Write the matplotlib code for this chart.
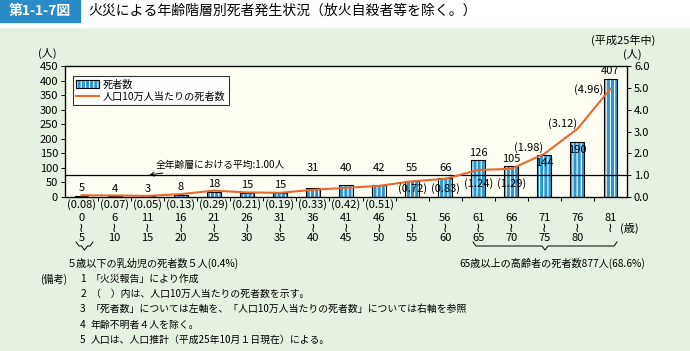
import matplotlib.pyplot as plt
import matplotlib.transforms as mtransforms
from matplotlib.patches import Patch, Rectangle
from matplotlib.lines import Line2D
from matplotlib.legend_handler import HandlerTuple

plt.rcParams['font.family'] = ['Noto Sans CJK JP', 'DejaVu Sans']
plt.rcParams['hatch.color'] = 'white'
plt.rcParams['hatch.linewidth'] = 0.8

# data
age_from = ['0', '6', '11', '16', '21', '26', '31', '36', '41', '46', '51', '56', '61', '66', '71', '76', '81']
age_to = ['5', '10', '15', '20', '25', '30', '35', '40', '45', '50', '55', '60', '65', '70', '75', '80', '']
deaths = [5, 4, 3, 8, 18, 15, 15, 31, 40, 42, 55, 66, 126, 105, 144, 190, 407]
rates = [0.08, 0.07, 0.05, 0.13, 0.29, 0.21, 0.19, 0.33, 0.42, 0.51, 0.72, 0.83, 1.24, 1.29, 1.98, 3.12, 4.96]
avg_rate = 1.00

notes = [
    ('1', '「火災報告」により作成'),
    ('2', '（　）内は、人口10万人当たりの死者数を示す。'),
    ('3', '「死者数」については左軸を、「人口10万人当たりの死者数」については右軸を参照'),
    ('4', '年齢不明者４人を除く。'),
    ('5', '人口は、人口推計（平成25年10月１日現在）による。'),
]

W, H = 690, 351
BLUE = '#2A98CE'
ORANGE = '#E8692E'

fig = plt.figure(figsize=(W / 100, H / 100), dpi=100)
fig.patch.set_facecolor('#E6F2E1')


def px(x, y):
    return x / W, 1 - y / H


# white title strip + blue label box
fig.add_artist(Rectangle(px(0, 27), 1, 27 / H, transform=fig.transFigure, color='white', zorder=0))
fig.add_artist(Rectangle(px(0, 22), 80 / W, 22 / H, transform=fig.transFigure, color='#2A8BC7', zorder=1))
fig.text(*px(40, 11), '第1-1-7図', color='white', fontsize=10, fontweight='bold', ha='center', va='center')
fig.text(*px(88, 11), '火災による年齢階層別死者発生状況（放火自殺者等を除く。）', fontsize=10,
         ha='left', va='center')

ax = fig.add_axes([65 / W, 1 - 197 / H, 562 / W, 131 / H])
ax.set_facecolor('#FEFEF3')
x = list(range(len(deaths)))

ax.bar(x, deaths, width=0.42, color=BLUE, hatch='||||', zorder=2)
ax.bar(x, deaths, width=0.42, fill=False, edgecolor='black', linewidth=0.8, zorder=3)
ax.axhline(avg_rate * 75, color='black', linewidth=0.9, zorder=4)

ax.set_xlim(-0.5, len(deaths) - 0.5)
ax.set_ylim(0, 450)
ax.set_yticks(range(0, 451, 50))
ax.set_xticks([i + 0.5 for i in x[:-1]])
ax.set_xticklabels([])
ax.tick_params(axis='x', length=3, width=0.7, direction='out')
ax.tick_params(axis='y', length=3, width=0.7, labelsize=8, pad=2)
for s in ax.spines.values():
    s.set_linewidth(0.9)

ax2 = ax.twinx()
ax2.set_ylim(0, 6)
ax2.set_yticks([0, 1, 2, 3, 4, 5, 6])
ax2.set_yticklabels([f'{v:.1f}' for v in range(7)])
ax2.tick_params(axis='y', length=3, width=0.7, labelsize=8, pad=2)
ax2.plot(x, rates, color=ORANGE, linewidth=1.5, zorder=5)

# counts above bars
for i, v in enumerate(deaths):
    if 25 < v < 75:
        y = 100
    elif v in (144, 190):
        y = v - 28
    else:
        y = v + 25
    ax.text(i, y, str(v), ha='center', va='center', fontsize=8, zorder=6)

# rate labels
bx = mtransforms.blended_transform_factory(ax.transData, fig.transFigure)
for i, r in enumerate(rates):
    lab = f'({r:.2f})'
    if i < 10:
        ax.text(i, 1 - 205 / H, lab, transform=bx, ha='center', va='center', fontsize=8)
    elif i < 12:
        ax2.text(i, 0.37, lab, ha='center', va='center', fontsize=8, zorder=6)
    elif i < 14:
        ax2.text(i, 0.6, lab, ha='center', va='center', fontsize=8, zorder=6)
    elif i == 14:
        ax2.text(i - 0.48, r + 0.27, lab, ha='center', va='center', fontsize=8)
    elif i == 15:
        ax2.text(i - 0.45, r + 0.23, lab, ha='center', va='center', fontsize=8)
    else:
        ax2.text(i - 0.22, r - 0.06, lab, ha='right', va='center', fontsize=8)

# age ranges under axis
for i in x:
    ax.text(i, 1 - 218 / H, age_from[i], transform=bx, ha='center', va='center', fontsize=8)
    ax.text(i, 1 - 228 / H, '≀', transform=bx, ha='center', va='center', fontsize=9,
            family='DejaVu Sans')
    if age_to[i]:
        ax.text(i, 1 - 238 / H, age_to[i], transform=bx, ha='center', va='center', fontsize=8)
ax.text(len(x) - 1 + 0.3, 1 - 228 / H, '(歳)', transform=bx, ha='left', va='center', fontsize=8)

# average annotation
ax.annotate('全年齢層における平均:1.00人', xy=(2.05, 76), xytext=(2.25, 109),
            fontsize=7, ha='left', va='center',
            arrowprops=dict(arrowstyle='->', color='black', lw=0.7, shrinkA=0, shrinkB=0))

# legend
h_bar = (Patch(facecolor=BLUE, hatch='||||'), Patch(fill=False, edgecolor='black', linewidth=0.8))
h_line = Line2D([], [], color=ORANGE, linewidth=1.5)
leg = ax.legend([h_bar, h_line], ['死者数', '人口10万人当たりの死者数'],
                handler_map={tuple: HandlerTuple(ndivide=1)},
                loc='upper left', bbox_to_anchor=(0.014, 0.925), borderaxespad=0,
                fontsize=7.3, frameon=True, fancybox=False, edgecolor='black',
                handlelength=2.2, handleheight=0.9, labelspacing=0.2,
                borderpad=0.35, handletextpad=0.4)
leg.get_frame().set_linewidth(0.8)
leg.get_frame().set_facecolor('white')
leg.set_zorder(10)

# unit labels
fig.text(*px(47, 53), '(人)', fontsize=8, ha='center', va='center')
fig.text(*px(623, 40), '(平成25年中)', fontsize=8, ha='center', va='center')
fig.text(*px(632, 54), '(人)', fontsize=8, ha='center', va='center')


# braces
def brace(x0, x1, y, d=4):
    xm = (x0 + x1) / 2
    xs = [x0, x0 + 3, xm - 3, xm, xm + 3, x1 - 3, x1]
    ys = [y - d, y, y, y + d, y, y, y - d]
    fig.add_artist(Line2D([v / W for v in xs], [1 - v / H for v in ys],
                          transform=fig.transFigure, color='black', linewidth=0.7))


brace(76, 93, 246)
fig.text(*px(67, 263), '５歳以下の乳幼児の死者数５人(0.4%)', fontsize=7.3, ha='left', va='center')
brace(473, 617, 246)
fig.text(*px(552, 263), '65歳以上の高齢者の死者数877人(68.6%)', fontsize=7.3, ha='center', va='center')

# notes
fig.text(*px(40, 279), '(備考)', fontsize=7.3, ha='left', va='center')
for k, (num, txt) in enumerate(notes):
    y = 279 + k * 15.2
    fig.text(*px(83, y), num, fontsize=7.3, ha='center', va='center')
    fig.text(*px(91, y), txt, fontsize=7.1, ha='left', va='center')

fig.savefig('out.png', dpi=100, facecolor=fig.get_facecolor())
